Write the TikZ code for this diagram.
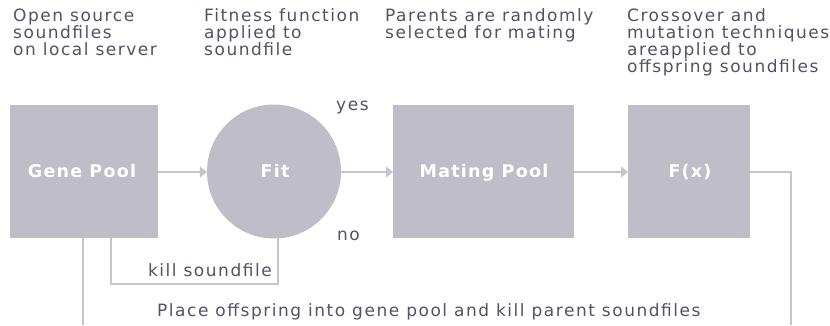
\documentclass[tikz,border=0pt]{standalone}
\usepackage{fontspec}
\setmainfont{DejaVu Sans}[LetterSpace=9]
\newfontfamily\boldlab{DejaVu Sans}[LetterSpace=7]
\usetikzlibrary{arrows.meta}
\definecolor{txt}{RGB}{82,82,104}
\definecolor{boxfill}{RGB}{190,189,200}
\definecolor{linec}{RGB}{198,197,206}
\begin{document}
\begin{tikzpicture}[x=1pt,y=-1pt,
  font=\fontsize{17}{17}\selectfont,
  box/.style={fill=boxfill, draw=none, inner sep=0, anchor=north west, minimum height=133pt},
  link/.style={draw=linec, line width=2pt},
  thinlink/.style={draw=linec, line width=1.5pt},
  arr/.style={link, -{Triangle[length=7pt,width=11pt]}},
  lab/.style={text=txt, align=left, inner sep=0},
  boxlab/.style={text=white, font=\boldlab\bfseries\fontsize{17.5}{17}\selectfont, inner sep=0, anchor=base}]
\useasboundingbox (0,0) rectangle (830,325);
\fill[white] (0,0) rectangle (830,325);
% shapes
\node[box, minimum width=148pt] (gp) at (10,105) {};
\node[circle, fill=boxfill, draw=none, inner sep=0, minimum size=134pt] (fit) at (274,171.5) {};
\node[box, minimum width=181pt] (mp) at (393,105) {};
\node[box, minimum width=122pt] (fx) at (628,105) {};
% box labels
\node[boxlab] (gpl) at (82,177) {Gene Pool};
\node[boxlab] (fitl) at (275,177) {Fit};
\node[boxlab] (mpl) at (484,177) {Mating Pool};
\node[boxlab] (fxl) at (690,177) {F(x)};
% top labels
\node[lab, anchor=north west] (t1) at (13,8.5) {Open source\\soundfiles\\on local server};
\node[lab, anchor=north west] (t2) at (204,8.5) {Fitness function\\applied to\\soundfile};
\node[lab, anchor=north west] (t3) at (385,8.5) {Parents are randomly\\selected for mating};
\node[lab, anchor=north west] (t4) at (627,8.5) {Crossover and\\mutation techniques\\areapplied to\\offspring soundfiles};
% small labels
\node[lab, anchor=base west] (yes) at (336,110) {yes};
\node[lab, anchor=base west] (no) at (337,240) {no};
\node[lab, anchor=base east] (kill) at (272,276) {kill soundfile};
\node[lab, anchor=base west] (place) at (157,316) {Place offspring into gene pool and kill parent soundfiles};
% connectors
\draw[arr] (gp.east |- 0,172) -- (fit.west |- 0,172);
\draw[arr] (fit.east |- 0,172) -- (mp.west |- 0,172);
\draw[arr] (mp.east |- 0,172) -- (fx.west |- 0,172);
\coordinate (fxr) at (791,172);
\coordinate (fxb) at (791,325);
\draw[link] (fx.east |- fxr) -- (fxr) -- (fxb);
\coordinate (gpb) at (83,325);
\draw[link] (gp.south -| gpb) -- (gpb);
\coordinate (kr) at (278,284);
\coordinate (kl) at (111,284);
\draw[thinlink] ([xshift=4pt,yshift=1pt]fit.south) -- (kr) -- (kl) -- (gp.south -| kl);
\end{tikzpicture}
\end{document}
